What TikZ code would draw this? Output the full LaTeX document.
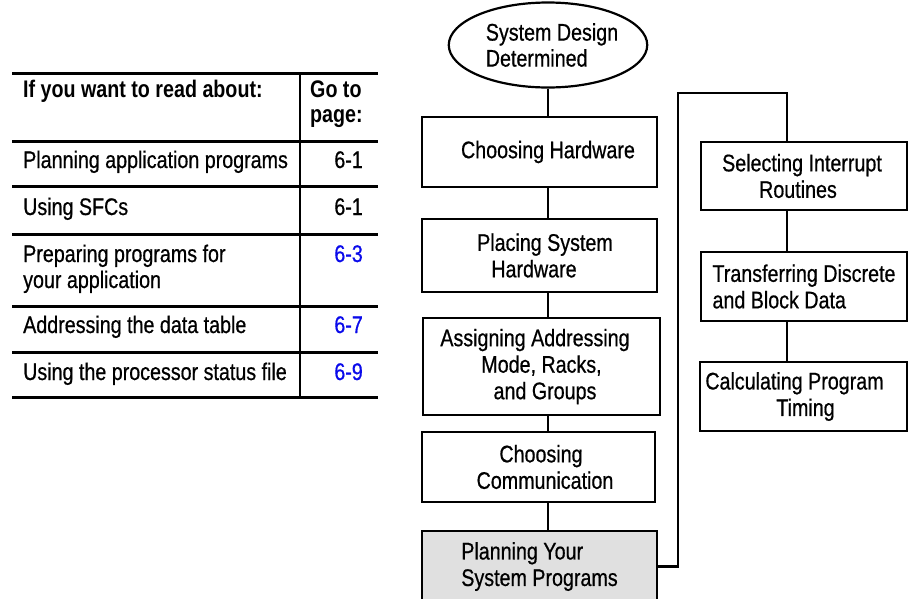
\documentclass[tikz,border=0pt]{standalone}
\usepackage{fontspec}
\setmainfont{Liberation Sans}[FakeStretch=0.82, UprightFeatures={FakeBold=0.6}]
\usetikzlibrary{shapes.geometric}
\definecolor{pageblue}{RGB}{10,10,235}
\definecolor{boxgray}{RGB}{224,224,224}
\tikzset{
  txt/.style={font=\fontsize{24}{26}\selectfont, inner sep=0pt},
  hdr/.style={txt, font=\fontsize{24}{25}\selectfont\bfseries},
  box/.style={draw, line width=2.6pt, fill=white, align=center, inner sep=0pt,
              font=\fontsize{24}{26.5}\selectfont},
  ell/.style={ellipse, draw, line width=2.2pt, align=left, inner sep=0pt,
              font=\fontsize{24}{26}\selectfont},
  conn/.style={line width=2.2pt},
  rule/.style={line width=3pt},
  vrule/.style={line width=2.8pt},
}
\begin{document}
\begin{tikzpicture}[x=1pt,y=-1pt]
\useasboundingbox (0,0) rectangle (908,598);
\fill[white] (0,0) rectangle (908,598);

% ---------- table ----------
\draw[rule] (12,73) -- (378,73);
\draw[rule] (12,141) -- (378,141);
\draw[rule] (12,186) -- (378,186);
\draw[rule] (12,234) -- (378,234);
\draw[rule] (12,306) -- (378,306);
\draw[rule] (12,352) -- (378,352);
\draw[rule] (12,397) -- (378,397);
\draw[vrule] (300,73) -- (300,397);

\node[hdr, anchor=base west] (h1) at (23,97) {If you want to read about:};
\node[hdr, anchor=base west] (h2a) at (310,97) {Go to};
\node[hdr, anchor=base west] (h2b) at (310,122) {page:};

\node[txt, anchor=base west] (r1) at (23,168) {Planning application programs};
\node[txt, anchor=base east] (p1) at (363,168) {6-1};
\node[txt, anchor=base west] (r2) at (23,215) {Using SFCs};
\node[txt, anchor=base east] (p2) at (363,215) {6-1};
\node[txt, anchor=base west] (r3a) at (23,262) {Preparing programs for};
\node[txt, anchor=base west] (r3b) at (23,288) {your application};
\node[txt, anchor=base east, text=pageblue] (p3) at (363,262) {6-3};
\node[txt, anchor=base west] (r4) at (23,333) {Addressing the data table};
\node[txt, anchor=base east, text=pageblue] (p4) at (363,333) {6-7};
\node[txt, anchor=base west] (r5) at (23,380) {Using the processor status file};
\node[txt, anchor=base east, text=pageblue] (p5) at (363,380) {6-9};

% ---------- flowchart, main column ----------
\node[ell, minimum width=187pt, minimum height=85pt] (sd) at (548,45)
  {\hspace*{8pt}System Design\\\hspace*{8pt}Determined};
\node[box, minimum width=235pt, minimum height=70pt] (ch) at (539.5,152)
  {\hspace*{17pt}Choosing Hardware};
\node[box, minimum width=235pt, minimum height=73pt] (ps) at (539.5,255.5)
  {\hspace*{11pt}Placing System\\Hardware\hspace*{11pt}};
\node[box, minimum width=237pt, minimum height=97pt] (aa) at (541.5,366.5)
  {Assigning Addressing\hspace*{13pt}\\Mode, Racks,\hspace*{5pt}\\\hspace*{7pt}and Groups};
\node[box, minimum width=233pt, minimum height=70pt] (cc) at (538.5,467)
  {\hspace*{5pt}Choosing\\\hspace*{13pt}Communication};
\node[box, fill=boxgray, align=left, minimum width=235pt, minimum height=71pt] (pl) at (539.5,566.5)
  {Planning Your\\System Programs};

\coordinate (mx) at (548,0);
\draw[conn] (sd.south) -- (mx |- ch.north);
\draw[conn] (mx |- ch.south) -- (mx |- ps.north);
\draw[conn] (mx |- ps.south) -- (mx |- aa.north);
\draw[conn] (mx |- aa.south) -- (mx |- cc.north);
\draw[conn] (mx |- cc.south) -- (mx |- pl.north);

% ---------- flowchart, right column ----------
\node[box, minimum width=206pt, minimum height=68pt] (si) at (804,176)
  {Selecting Interrupt\hspace*{4pt}\\Routines\hspace*{12pt}};
\node[box, align=left, minimum width=206pt, minimum height=69pt] (td) at (804,286.5)
  {Transferring Discrete\\and Block Data};
\node[box, minimum width=207pt, minimum height=69pt] (cp) at (803.5,396.5)
  {Calculating Program\hspace*{18pt}\\\hspace*{4pt}Timing};

\coordinate (tr) at (678,93);
\coordinate (rx) at (787,93);
\draw[conn] (pl.east) -| (tr) -- (rx) -- (rx |- si.north);
\draw[conn] (rx |- si.south) -- (rx |- td.north);
\draw[conn] (rx |- td.south) -- (rx |- cp.north);
\end{tikzpicture}
\end{document}
